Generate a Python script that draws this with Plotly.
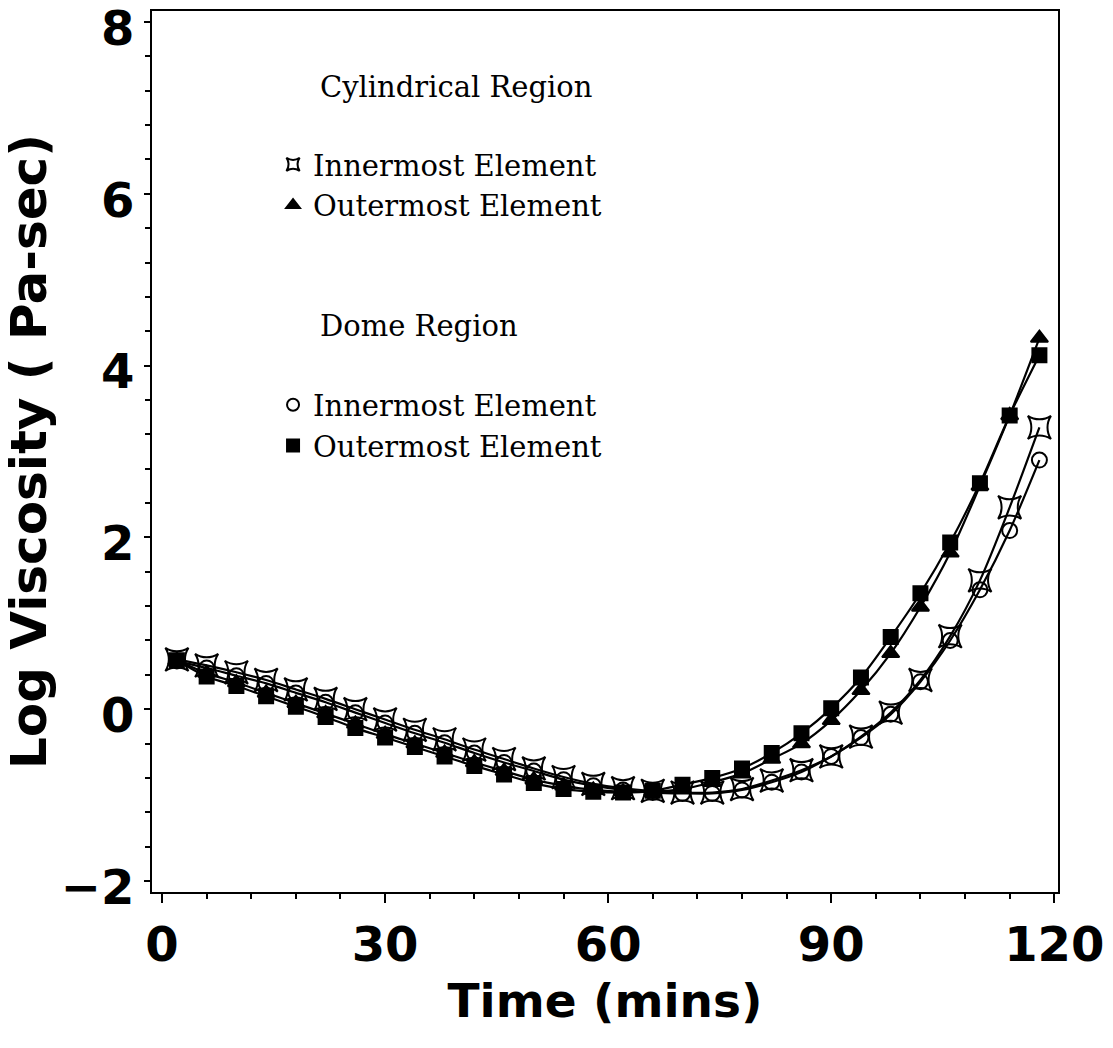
import plotly.graph_objects as go

# Time (mins) at which each element was sampled
time_min = [2, 6, 10, 14, 18, 22, 26, 30, 34, 38, 42, 46, 50, 54, 58,
            62, 66, 70, 74, 78, 82, 86, 90, 94, 98, 102, 106, 110, 114, 118]

# Log viscosity (Pa-sec) for each element
cyl_inner = [0.58, 0.51, 0.43, 0.34, 0.23, 0.12, 0.00, -0.12, -0.24, -0.35,
             -0.47, -0.58, -0.69, -0.79, -0.87, -0.92, -0.95, -0.97, -0.97, -0.93,
             -0.83, -0.71, -0.55, -0.32, -0.04, 0.34, 0.85, 1.50, 2.35, 3.28]
cyl_outer = [0.57, 0.42, 0.31, 0.19, 0.07, -0.05, -0.17, -0.29, -0.40, -0.51,
             -0.62, -0.72, -0.82, -0.89, -0.94, -0.96, -0.96, -0.93, -0.85, -0.75,
             -0.58, -0.40, -0.13, 0.22, 0.65, 1.19, 1.82, 2.60, 3.42, 4.32]
dome_inner = [0.56, 0.48, 0.39, 0.30, 0.19, 0.08, -0.04, -0.16, -0.28, -0.39,
              -0.51, -0.62, -0.72, -0.82, -0.89, -0.94, -0.97, -0.98, -0.98, -0.94,
              -0.85, -0.73, -0.55, -0.33, -0.06, 0.32, 0.80, 1.39, 2.08, 2.90]
dome_outer = [0.57, 0.38, 0.27, 0.15, 0.03, -0.09, -0.22, -0.33, -0.44, -0.55,
              -0.66, -0.76, -0.86, -0.93, -0.96, -0.97, -0.95, -0.88, -0.80, -0.69,
              -0.51, -0.28, 0.01, 0.37, 0.84, 1.35, 1.94, 2.63, 3.42, 4.12]

group_titles = ["Cylindrical Region", "Dome Region"]

series = [
    ("cyl", "Innermost Element", cyl_inner, "star-square-open", 21),
    ("cyl", "Outermost Element", cyl_outer, "triangle-up", 15),
    ("dome", "Innermost Element", dome_inner, "circle-open", 15),
    ("dome", "Outermost Element", dome_outer, "square", 14),
]

fig = go.Figure()

# smooth connecting curves
for grp, name, vals, sym, size in series:
    fig.add_trace(go.Scatter(
        x=time_min, y=vals, mode="lines",
        line=dict(color="black", width=2.2, shape="spline", smoothing=0.8),
        showlegend=False, hoverinfo="skip",
    ))

# symbols
for grp, name, vals, sym, size in series:
    fig.add_trace(go.Scatter(
        x=time_min, y=vals, mode="markers", name=name,
        legendgroup=grp,
        marker=dict(symbol=sym, size=size, color="black",
                    line=dict(color="black", width=2)),
    ))

serif = dict(family="DejaVu Serif", size=29, color="black")

# region headings above each legend group
for text, ypos in zip(group_titles, [0.9137, 0.6425]):
    fig.add_annotation(
        text=text, xref="paper", yref="paper", x=0.183, y=ypos,
        xanchor="left", yanchor="middle", showarrow=False, font=serif,
    )

axis_font = dict(family="DejaVu Sans", size=48, color="black", weight="bold")

fig.update_layout(
    width=1113, height=1048,
    margin=dict(l=152, r=55, t=11, b=156, autoexpand=False),
    paper_bgcolor="white", plot_bgcolor="white",
    showlegend=True,
    legend=dict(
        x=0.1336, y=0.8547, xanchor="left", yanchor="top",
        font=serif,
        traceorder="grouped", tracegroupgap=159,
        itemsizing="constant", bgcolor="rgba(0,0,0,0)",
    ),
)

fig.update_xaxes(
    range=[-1.35, 120.5], tickmode="linear", tick0=0, dtick=30,
    ticks="outside", ticklen=9, tickwidth=2, tickcolor="black",
    minor=dict(dtick=6, tick0=0, ticks="outside", ticklen=5, tickwidth=2, tickcolor="black"),
    showline=True, linecolor="black", linewidth=2, mirror=True,
    showgrid=False, zeroline=False, automargin=True,
    tickfont=axis_font, ticklabeloverflow="allow",
    title=dict(text="Time (mins)", font=dict(family="DejaVu Sans", size=47, color="black", weight="bold"), standoff=14),
)
fig.update_yaxes(
    range=[-2.128, 8.128], tickmode="linear", tick0=-2, dtick=2,
    ticks="outside", ticklen=6, tickwidth=2, tickcolor="black",
    minor=dict(dtick=0.4, tick0=-2, ticks="outside", ticklen=5, tickwidth=2, tickcolor="black"),
    showline=True, linecolor="black", linewidth=2, mirror=True,
    showgrid=False, zeroline=False, automargin=True,
    tickfont=axis_font, ticklabeloverflow="allow", ticklabelshift=6,
    title=dict(text="Log Viscosity ( Pa-sec)", font=dict(family="DejaVu Sans", size=50, color="black", weight="bold"), standoff=12),
)

fig.write_html("out.html")
